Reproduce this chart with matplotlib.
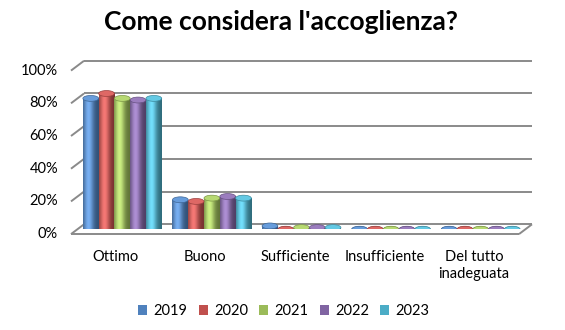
import matplotlib
matplotlib.use("Agg")
import matplotlib.pyplot as plt
import numpy as np
from matplotlib.patches import Ellipse, Patch
from matplotlib.transforms import offset_copy
from matplotlib.colors import to_rgb

plt.rcParams['font.family'] = ['Lato', 'DejaVu Sans']

categories = ['Ottimo', 'Buono', 'Sufficiente', 'Insufficiente', 'Del tutto\ninadeguata']
years = ['2019', '2020', '2021', '2022', '2023']
v2019 = [80, 18, 2, 0, 0]
v2020 = [83, 17, 0, 0, 0]
v2021 = [80, 19, 1, 0, 0]
v2022 = [79, 20, 1, 0, 0]
v2023 = [80, 19, 1, 0, 0]
series = [v2019, v2020, v2021, v2022, v2023]
colors = ['#4F81BD', '#C0504D', '#9BBB59', '#8064A2', '#4BACC6']
yticks = [0, 20, 40, 60, 80, 100]

W, H = 565, 330
fig = plt.figure(figsize=(W / 100, H / 100), dpi=100)

# bar plane sits at mid depth of the 3d box
x0, x1 = 77.5, 525.5
y0, y1 = 229.2, 65.7
ax = fig.add_axes([x0 / W, 1 - y0 / H, (x1 - x0) / W, (y0 - y1) / H])
ax.set_xlim(0, 5)
ax.set_ylim(0, 100)
ax.axis('off')

dx, dy = 6.5, 4.9
back = offset_copy(ax.transData, fig, x=dx, y=dy, units='dots')
front = offset_copy(ax.transData, fig, x=-dx, y=-dy, units='dots')
grid_kw = dict(color='#8a8a8a', lw=1.4, solid_capstyle='butt', clip_on=False)
tick_tr = offset_copy(ax.transData, fig, x=-dx - 13, y=-dy, units='dots')

# back wall gridlines and left wall diagonals
for v in yticks:
    ax.plot([0, 5], [v, v], transform=back, zorder=1, **grid_kw)
    p0 = front.transform((0, v))
    p1 = back.transform((0, v))
    ax.plot([p0[0], p1[0]], [p0[1], p1[1]], transform=None, zorder=1, **grid_kw)
    ax.text(0, v, f'{v}%', transform=tick_tr, ha='right', va='center', fontsize=10.5)

# floor: front edge and right edge
ax.plot([0, 5], [0, 0], transform=front, zorder=1, **grid_kw)
p0 = front.transform((5, 0))
p1 = back.transform((5, 0))
ax.plot([p0[0], p1[0]], [p0[1], p1[1]], transform=None, zorder=1, **grid_kw)


def shade(c):
    base = np.array(to_rgb(c))
    t = np.linspace(0, 1, 64)
    light = np.exp(-((t - 0.35) / 0.32) ** 2)
    dark = np.clip(0.62 + 0.5 * light, 0, 1.15)
    rgb = np.clip(base[None, :] * dark[:, None] + 0.12 * light[:, None], 0, 1)
    return rgb[None, :, :]


n = len(series)
slot = 0.88
bw = slot / n
cap = 3.6  # ellipse height in data units
for j, (vals, c) in enumerate(zip(series, colors)):
    xs = np.arange(len(categories)) + 0.5 - slot / 2 + bw * (j + 0.5)
    bars = ax.bar(xs, vals, width=bw, color='none', edgecolor='none', zorder=3)
    base = np.array(to_rgb(c))
    for x, v, rect in zip(xs, vals, bars):
        ax.add_patch(Ellipse((x, 0), bw, cap, facecolor=base * 0.72, edgecolor='none', zorder=3))
        if v > 0:
            im = ax.imshow(shade(c), extent=(x - bw / 2, x + bw / 2, 0, v),
                           aspect='auto', zorder=4, interpolation='bilinear')
            im.set_clip_path(rect)
        top = np.clip(base * 1.05 + 0.08, 0, 1)
        ax.add_patch(Ellipse((x, v), bw, cap, facecolor=top,
                             edgecolor=base * 0.8, lw=0.5, zorder=5))

lab_tr = offset_copy(ax.transData, fig, x=-dx, y=-(250 - y0), units='dots')
for i, lab in enumerate(categories):
    ax.text(i + 0.5, 0, lab, transform=lab_tr, ha='center', va='top',
            fontsize=10.5, linespacing=1.3)

fig.text(281 / W, 1 - 22 / H, "Come considera l'accoglienza?", ha='center', va='center',
         fontsize=19, fontweight='bold')

handles = [Patch(facecolor=c, edgecolor='none', label=y) for c, y in zip(colors, years)]
fig.legend(handles=handles, loc='center', bbox_to_anchor=(284 / W, 1 - 311 / H), ncol=5,
           frameon=False, fontsize=10.5, handlelength=0.62, handleheight=0.62,
           handletextpad=0.45, columnspacing=0.75)

fig.savefig('out.png', dpi=100)
